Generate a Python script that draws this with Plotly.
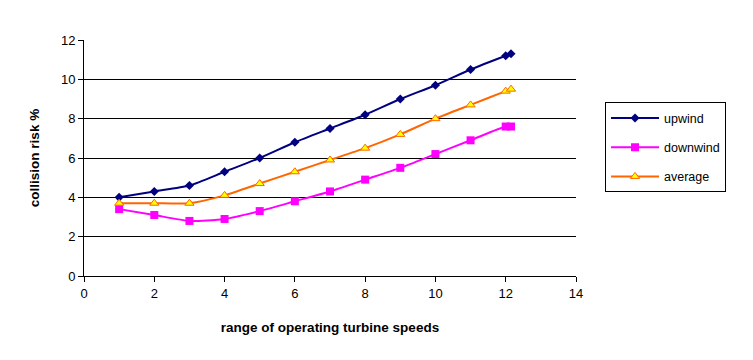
import plotly.graph_objects as go

speeds = [1, 2, 3, 4, 5, 6, 7, 8, 9, 10, 11, 12, 12.15]
upwind = [4.0, 4.3, 4.6, 5.3, 6.0, 6.8, 7.5, 8.2, 9.0, 9.7, 10.5, 11.2, 11.3]
downwind = [3.4, 3.1, 2.8, 2.9, 3.3, 3.8, 4.3, 4.9, 5.5, 6.2, 6.9, 7.6, 7.6]
average = [3.7, 3.7, 3.7, 4.1, 4.7, 5.3, 5.9, 6.5, 7.2, 8.0, 8.7, 9.4, 9.5]

x_ticks = [0, 2, 4, 6, 8, 10, 12, 14]
y_ticks = [0, 2, 4, 6, 8, 10, 12]

fig = go.Figure()
fig.add_trace(go.Scatter(
    x=speeds, y=upwind, name="upwind", mode="lines+markers", legendgroup="a",
    line=dict(color="#000080", width=2, shape="spline", smoothing=0.6),
    marker=dict(symbol="diamond", size=7, color="#000080"),
))
fig.add_trace(go.Scatter(
    x=speeds, y=downwind, name="downwind", mode="lines+markers", legendgroup="b",
    line=dict(color="#FF00FF", width=2, shape="spline", smoothing=0.6),
    marker=dict(symbol="square", size=8, color="#FF00FF"),
))
fig.add_trace(go.Scatter(
    x=speeds, y=average, name="average", mode="lines+markers", legendgroup="c",
    line=dict(color="#FF6600", width=2, shape="spline", smoothing=0.6),
    marker=dict(symbol="triangle-up", size=8, color="#FFFF00",
                line=dict(color="#FF6600", width=1)),
))

fig.update_layout(
    width=753, height=360,
    margin=dict(l=76, r=185, t=32, b=92),
    paper_bgcolor="white", plot_bgcolor="white",
    font=dict(family="Liberation Sans, Arial, sans-serif", size=13, color="black"),
    showlegend=True,
    legend=dict(
        x=1.059, y=0.736, xanchor="left", yanchor="top",
        bordercolor="black", borderwidth=1, bgcolor="white",
        font=dict(size=12.5), tracegroupgap=10, itemwidth=48,
        entrywidth=128, entrywidthmode="pixels",
    ),
    xaxis=dict(
        range=[0, 14], tickvals=x_ticks, showgrid=False, zeroline=False,
        showline=True, linecolor="black", linewidth=1,
        ticks="outside", ticklen=5, tickcolor="black",
        title=dict(text="<b>range of operating turbine speeds</b>",
                   font=dict(size=13.5), standoff=22),
    ),
    yaxis=dict(
        range=[0, 12], tickvals=y_ticks, showgrid=True, gridcolor="black", gridwidth=1,
        zeroline=False, showline=True, linecolor="black", linewidth=1,
        ticks="outside", ticklen=5, tickcolor="black",
        title=dict(text="<b>collision risk %</b>", font=dict(size=13.5), standoff=18),
    ),
)

fig.write_html("out.html")
